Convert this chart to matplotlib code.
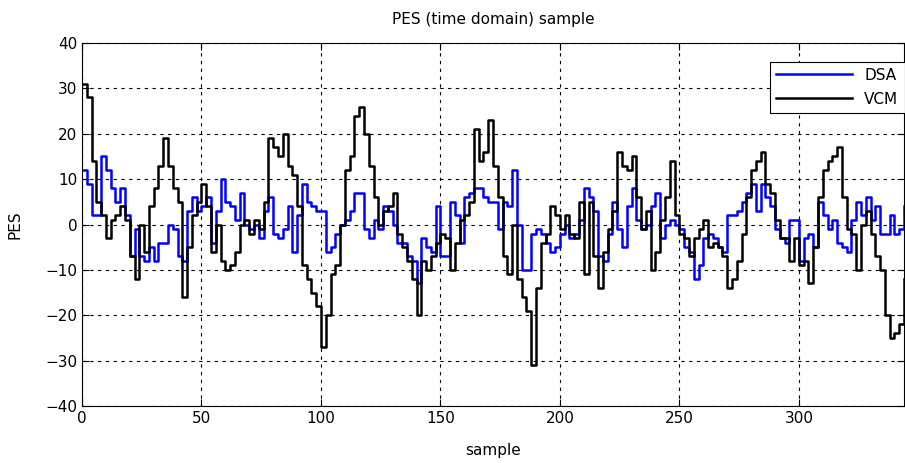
import numpy as np
import matplotlib
matplotlib.use('Agg')
import matplotlib.pyplot as plt

# values read every 2 samples
sample = np.arange(0, 345, 2)

dsa = [12, 9, 2, 2, 15, 12, 8, 5, 8, 2, -7, -1, -7, -8, -5, -8, -4, -4, 0, -1,
       -7, -8, 3, 6, 3, 4, 6, -4, 3, 10, 5, 4, 1, 7, 0, -1, 0, -3, 3, 6,
       -2, -3, -1, 4, -6, 2, 9, 5, 4, 3, 3, -6, -5, -2, 0, 1, 3, 7, 7, -1,
       -3, 1, -1, 4, 3, 0, -4, -4, -7, -8, -13, -3, -5, -6, 4, -7, -7, 5, 2, -4,
       6, 7, 8, 8, 6, 5, 5, -1, 5, 4, 12, 0, -10, -10, -2, -1, -2, -4, -6, -5,
       -2, 0, -3, -2, 1, 8, 6, 3, -7, -8, -2, 5, -1, -5, 4, 8, 1, -1, 0, 4,
       7, -3, 0, 1, 0, -1, -5, -6, -12, -9, -3, -2, -3, -5, -6, 2, 2, 3, 5, 7,
       9, 3, 9, 6, 4, -1, -3, -4, 1, 1, -8, -3, -2, -5, 5, 2, -1, 1, -4, -5,
       -6, 1, 5, 2, 6, 1, 4, -2, -2, 2, -2, -1, 4]

vcm = [31, 28, 14, 5, 2, -3, 1, 2, 4, 1, -7, -12, 0, -6, 4, 8, 13, 19, 13, 8,
       5, -16, -5, 2, 5, 9, 4, -6, 0, -8, -10, -9, -6, 0, 1, -2, 1, -1, 5, 19,
       17, 15, 20, 13, 11, 4, -9, -12, -15, -18, -27, -20, -11, -9, 0, 12, 15, 24, 26, 20,
       13, 6, 0, 3, 4, 7, -2, -5, -8, -12, -20, -8, -10, -7, -4, -2, -3, -10, -4, 1,
       2, 5, 21, 14, 16, 23, 13, 6, -7, -11, 0, -12, -16, -19, -31, -14, -4, -2, 4, 2,
       -1, 2, -2, -3, 5, -11, 5, -7, -14, -6, -1, 3, 16, 13, 12, 15, 6, -1, 3, -10,
       -6, 1, 6, 14, 2, -2, -3, -7, -3, -1, 1, -5, -4, -5, -7, -14, -12, -8, -2, 6,
       12, 14, 16, 9, 7, 1, -3, -3, -8, -3, -9, -8, -13, -5, 6, 12, 14, 15, 17, 6,
       -1, -2, -10, 0, 3, -2, -7, -10, -20, -25, -24, -22, -12]

fig = plt.figure(figsize=(9.05, 4.63), dpi=100)
ax = fig.add_axes([82/905, 1-406/463, (904-82)/905, (406-43)/463])

ax.plot(sample, dsa, c=(0, 0, 1), lw=1.8, drawstyle='steps-post', label='DSA')
ax.plot(sample, vcm, c='k', lw=1.8, drawstyle='steps-post', label='VCM')

ax.set_xlim(0, 344)
ax.set_ylim(-40, 40)
ax.set_xticks([0, 50, 100, 150, 200, 250, 300])
ax.set_yticks(range(-40, 41, 10))
ax.grid(True, color='k', linestyle=(0, (3, 4)), linewidth=0.8)
ax.tick_params(direction='in', length=5, labelsize=11, top=True, right=True)

ax.set_title('PES (time domain) sample', fontsize=11, pad=14)
ax.set_xlabel('sample', fontsize=11, labelpad=12)
ax.set_ylabel('PES', fontsize=11, labelpad=16)

leg = ax.legend(loc='upper right', fontsize=11, fancybox=False, framealpha=1,
                edgecolor='k', handlelength=5, labelspacing=0.6,
                bbox_to_anchor=(1.01, 0.97))
leg.get_frame().set_linewidth(0.8)

fig.savefig('out.png', dpi=100)
